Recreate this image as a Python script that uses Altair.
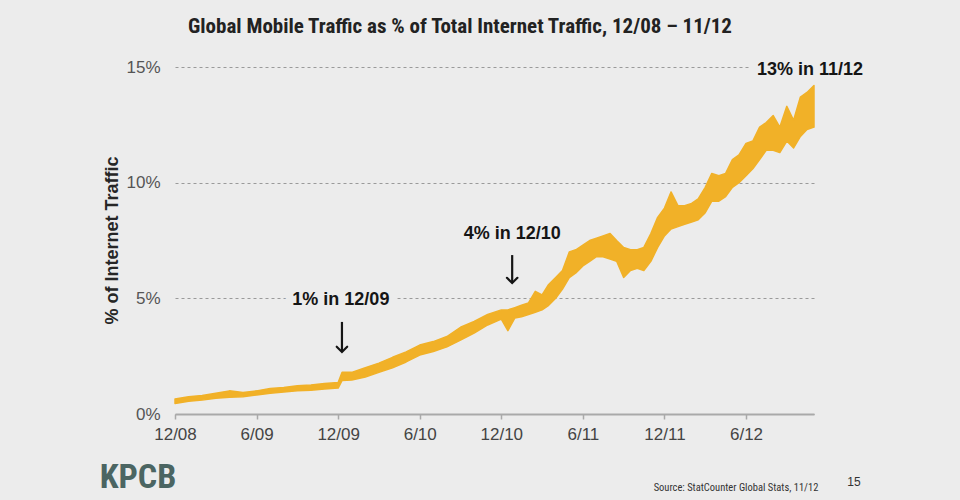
import json
import altair as alt
import pandas as pd

# ---------------- data ----------------
title_text = "Global Mobile Traffic as % of Total Internet Traffic, 12/08 \u2013 11/12"
y_title = "% of Internet Traffic"
tick_labels = ["12/08", "6/09", "12/09", "6/10", "12/10", "6/11", "12/11", "6/12"]
tick_months = [0, 6, 12, 18, 24, 30, 36, 42]
y_ticks = [0, 5, 10, 15]

dates = [
    "2008-12-01", "2009-01-01", "2009-02-01", "2009-03-01", "2009-04-01", "2009-05-01",
    "2009-06-01", "2009-07-01", "2009-08-01", "2009-09-01", "2009-10-01", "2009-11-01",
    "2009-12-01", "2009-12-10", "2010-01-01", "2010-02-01", "2010-03-01", "2010-04-01",
    "2010-05-01", "2010-06-01", "2010-07-01", "2010-08-01", "2010-09-01", "2010-10-01",
    "2010-11-01", "2010-12-01", "2010-12-16",
    "2011-01-01", "2011-01-16", "2011-02-01", "2011-02-15", "2011-03-01", "2011-03-16",
    "2011-04-01", "2011-04-16", "2011-05-01", "2011-05-16", "2011-06-01", "2011-06-16",
    "2011-07-01", "2011-07-16", "2011-08-01", "2011-08-16", "2011-09-01", "2011-09-16",
    "2011-10-01", "2011-10-16", "2011-11-01", "2011-11-16", "2011-12-01", "2011-12-16",
    "2012-01-01", "2012-01-16", "2012-02-01", "2012-02-15", "2012-03-01", "2012-03-16",
    "2012-04-01", "2012-04-16", "2012-05-01", "2012-05-16", "2012-06-01", "2012-06-16",
    "2012-07-01", "2012-07-16", "2012-08-01", "2012-08-16", "2012-09-01", "2012-09-16",
    "2012-10-01", "2012-10-16", "2012-11-01",
]
low = [
    0.45, 0.55, 0.60, 0.68, 0.72, 0.75,
    0.82, 0.90, 0.95, 1.00, 1.03, 1.08,
    1.12, 1.45, 1.47, 1.60, 1.80, 2.00,
    2.25, 2.55, 2.70, 2.90, 3.20, 3.50,
    3.85, 4.10, 3.60,
    4.15, 4.20, 4.30, 4.40, 4.50, 4.70,
    5.00, 5.40, 5.90, 6.10, 6.40, 6.60,
    6.80, 6.80, 6.70, 6.60, 5.90, 6.20,
    6.30, 6.20, 6.60, 7.20, 7.70, 8.00,
    8.10, 8.20, 8.30, 8.40, 8.70, 9.20,
    9.20, 9.40, 9.80, 10.0, 10.3, 10.6,
    11.0, 11.4, 11.4, 11.3, 11.8, 11.5,
    12.0, 12.3, 12.4,
]
high = [
    0.65, 0.75, 0.80, 0.90, 1.00, 0.93,
    1.00, 1.10, 1.15, 1.22, 1.25, 1.32,
    1.36, 1.80, 1.80, 2.00, 2.20, 2.45,
    2.68, 2.98, 3.13, 3.35, 3.75, 4.00,
    4.30, 4.50, 4.50,
    4.60, 4.70, 4.80, 5.30, 5.15, 5.60,
    5.90, 6.20, 7.00, 7.10, 7.30, 7.50,
    7.60, 7.70, 7.80, 7.50, 7.20, 7.10,
    7.10, 7.20, 7.80, 8.50, 8.90, 9.60,
    9.00, 9.00, 9.10, 9.30, 9.80, 10.4,
    10.3, 10.4, 11.0, 11.2, 11.7, 11.8,
    12.4, 12.6, 12.9, 12.4, 13.3, 12.7,
    13.7, 13.9, 14.2,
]

ann_text = ["1% in 12/09", "4% in 12/10", "13% in 11/12"]
ann_month = [12.2, 24.8, 46.7]
ann_value = [4.93, 7.78, 14.87]

arrow_month = [12.28, 24.8]
arrow_top = [3.98, 6.87]
arrow_bottom = [2.68, 5.66]

logo_text = "KPCB"
source_text = "Source: StatCounter Global Stats, 11/12"
page_text = "15"

# ---------------- styles ----------------
GOLD = "#f1b128"
BG = "#ececec"
INK = "#151515"
FONT = "Liberation Sans"
NARROW = "Liberation Sans Narrow, Roboto Condensed, Liberation Sans"

d = pd.to_datetime(pd.Series(dates))
months = (d.dt.year - 2008) * 12 + (d.dt.month - 12) + (d.dt.day - 1) / d.dt.days_in_month
df = pd.DataFrame({"m": months, "low": low, "high": high})

ann_df = pd.DataFrame({"m": ann_month, "low": ann_value, "t": ann_text})
arrow_df = pd.DataFrame({"m": arrow_month, "low": arrow_top, "high": arrow_bottom})

x_scale = alt.Scale(domain=[0, 47], nice=False, zero=False)
y_scale = alt.Scale(domain=[0, 15], nice=False)

label_expr = json.dumps(tick_labels) + "[round(datum.value / 6)]"

x_axis = alt.Axis(
    values=tick_months, labelExpr=label_expr, grid=False,
    domainColor="#a9a9a9", domainWidth=2,
    tickColor="#a9a9a9", tickWidth=1.5, tickSize=5,
    labelFont=FONT, labelFontSize=17, labelColor="#444444",
    labelPadding=7, labelFlush=False, labelOverlap=False, zindex=1,
)
y_axis = alt.Axis(
    values=y_ticks, labelExpr="datum.value + '%'",
    grid=True, gridDash=[3, 3], gridColor="#9a9a9a", gridWidth=1,
    domain=False, ticks=False,
    labelFont=FONT, labelFontSize=17, labelColor="#555555", labelPadding=15,
    titleFont=FONT, titleFontSize=18, titleFontWeight="bold",
    titleColor="#262626", titleX=-63, titleY=173, titleBaseline="middle",
)

X = alt.X("m:Q", scale=x_scale, axis=x_axis, title=None)
Y = alt.Y("low:Q", scale=y_scale, axis=y_axis, title=y_title)

band = alt.Chart(df).mark_area(
    color=GOLD, stroke=GOLD, strokeWidth=1.5, strokeJoin="round"
).encode(x=X, y=Y, y2="high:Q")

halo = alt.Chart(ann_df).mark_text(
    font=FONT, fontSize=18, fontWeight="bold", color=BG, stroke=BG,
    strokeWidth=16, strokeJoin="round", align="center", baseline="middle",
).encode(x=X, y=Y, text="t:N")
ann = alt.Chart(ann_df).mark_text(
    font=FONT, fontSize=18, fontWeight="bold", color=INK,
    align="center", baseline="middle",
).encode(x=X, y=Y, text="t:N")

arrow_shaft = alt.Chart(arrow_df).mark_rule(color=INK, strokeWidth=2.2).encode(
    x=X, y=Y, y2="high:Q"
)
arrow_head = alt.Chart(arrow_df).mark_point(
    shape="M -1 -1 L 0 0 L 1 -1", filled=False, stroke=INK, strokeWidth=2.2,
    size=110, opacity=1, strokeCap="round", strokeJoin="miter",
).encode(x=X, y=alt.Y("high:Q", scale=y_scale, axis=y_axis, title=y_title))


def pix_text(txt, x, y, **kw):
    return alt.Chart(pd.DataFrame({"t": [txt]})).mark_text(
        align="center", baseline="middle", **kw
    ).encode(x=alt.value(x), y=alt.value(y), text="t:N")


title = pix_text(title_text, 285, -40, font=NARROW, fontSize=21,
                 fontWeight="bold", color="#222222")
logo = pix_text(logo_text, -37, 411, font=NARROW, fontSize=34,
                fontWeight="bold", color="#4b6562")
source = pix_text(source_text, 561, 421, font=NARROW, fontSize=10.5,
                  color="#333333")
page = pix_text(page_text, 679, 415, font=FONT, fontSize=12, color="#333333")

chart = alt.layer(
    band, halo, ann, arrow_shaft, arrow_head, title, logo, source, page
).properties(
    width=639, height=347,
    padding={"left": 175, "top": 67, "right": 146, "bottom": 86},
    autosize=alt.AutoSizeParams(type="none"),
    background=BG,
).configure_view(stroke=None)

chart.save("out.html", embed_options={"renderer": "svg", "actions": False})
